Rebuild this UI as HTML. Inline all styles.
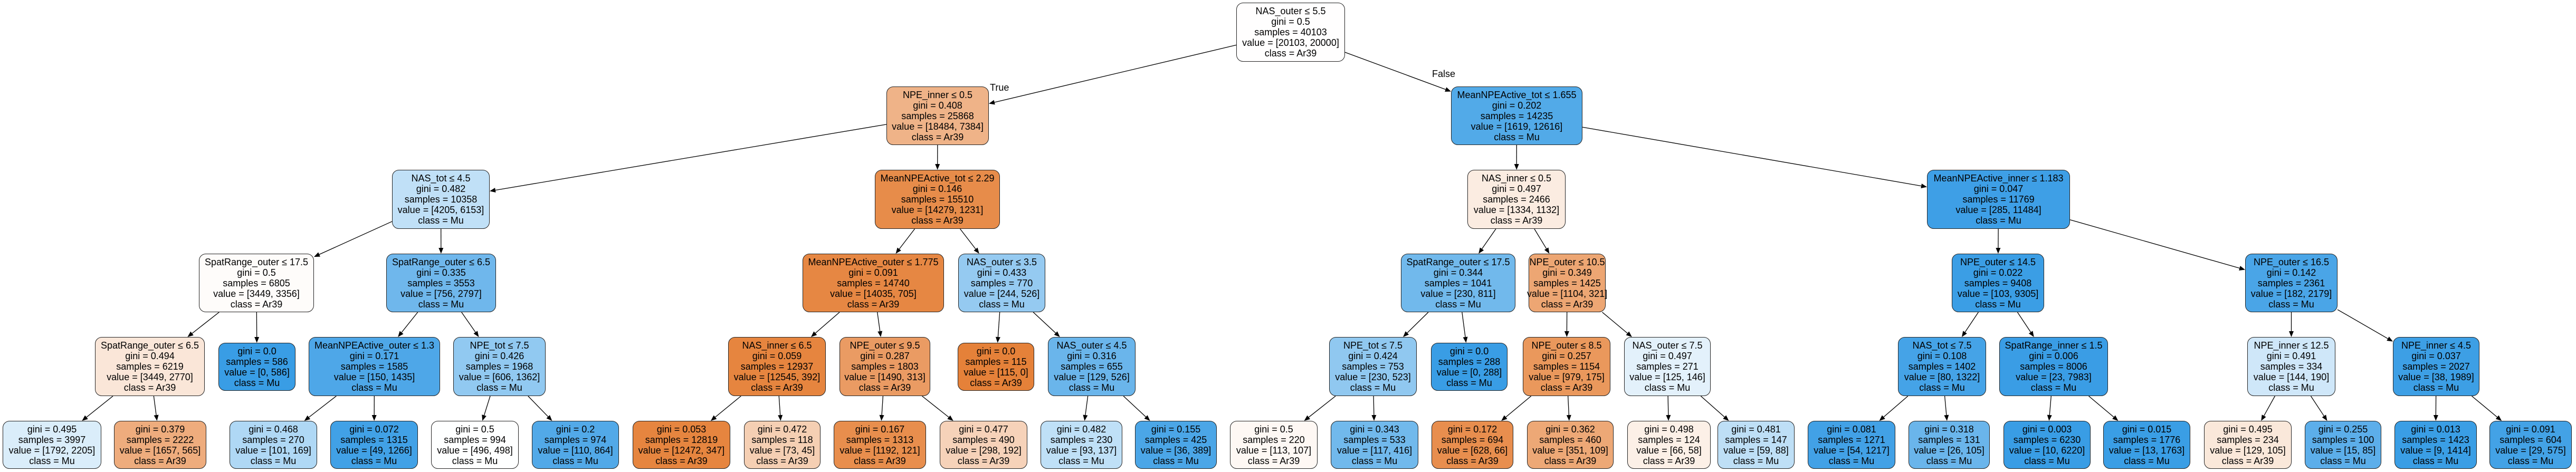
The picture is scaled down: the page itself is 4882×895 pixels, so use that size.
<!DOCTYPE html>
<html><head><meta charset="utf-8">
<style>
html,body{margin:0;padding:0;background:#fff;}
body{width:4882px;height:895px;position:relative;overflow:hidden;font-family:"Liberation Sans",Arial,sans-serif;}
.n{position:absolute;box-sizing:border-box;border:1.6px solid #222;border-radius:13px;display:flex;flex-direction:column;justify-content:center;align-items:center;text-align:center;font-size:18px;line-height:20px;color:#000;white-space:nowrap;background:#fff;}
.lbl{position:absolute;font-size:18px;}
svg{position:absolute;left:0;top:0;}
</style></head><body>
<svg id="s" width="4882" height="895"></svg>
<div class="lbl" style="left:1876px;top:156px">True</div>
<div class="lbl" style="left:2714px;top:130px">False</div>

<div class="n" id="n0" style="left:2343px;top:5px;width:206px;height:112px">NAS_outer ≤ 5.5<br>gini = 0.5<br>samples = 40103<br>value = [20103, 20000]<br>class = Ar39</div>
<div class="n" id="n1" style="left:1680px;top:164px;width:194px;height:111px">NPE_inner ≤ 0.5<br>gini = 0.408<br>samples = 25868<br>value = [18484, 7384]<br>class = Ar39</div>
<div class="n" id="n2" style="left:2750px;top:164px;width:249px;height:111px">MeanNPEActive_tot ≤ 1.655<br>gini = 0.202<br>samples = 14235<br>value = [1619, 12616]<br>class = Mu</div>
<div class="n" id="n3" style="left:743px;top:322px;width:185px;height:112px">NAS_tot ≤ 4.5<br>gini = 0.482<br>samples = 10358<br>value = [4205, 6153]<br>class = Mu</div>
<div class="n" id="n4" style="left:1658px;top:322px;width:237px;height:112px">MeanNPEActive_tot ≤ 2.29<br>gini = 0.146<br>samples = 15510<br>value = [14279, 1231]<br>class = Ar39</div>
<div class="n" id="n5" style="left:2781px;top:322px;width:186px;height:112px">NAS_inner ≤ 0.5<br>gini = 0.497<br>samples = 2466<br>value = [1334, 1132]<br>class = Ar39</div>
<div class="n" id="n6" style="left:3652px;top:322px;width:271px;height:112px">MeanNPEActive_inner ≤ 1.183<br>gini = 0.047<br>samples = 11769<br>value = [285, 11484]<br>class = Mu</div>

<div class="n" id="n7" style="left:377px;top:481px;width:218px;height:111px">SpatRange_outer ≤ 17.5<br>gini = 0.5<br>samples = 6805<br>value = [3449, 3356]<br>class = Ar39</div>
<div class="n" id="n8" style="left:732px;top:481px;width:208px;height:111px">SpatRange_outer ≤ 6.5<br>gini = 0.335<br>samples = 3553<br>value = [756, 2797]<br>class = Mu</div>
<div class="n" id="n9" style="left:1521px;top:481px;width:268px;height:111px">MeanNPEActive_outer ≤ 1.775<br>gini = 0.091<br>samples = 14740<br>value = [14035, 705]<br>class = Ar39</div>
<div class="n" id="n10" style="left:1816px;top:481px;width:165px;height:111px">NAS_outer ≤ 3.5<br>gini = 0.433<br>samples = 770<br>value = [244, 526]<br>class = Mu</div>
<div class="n" id="n11" style="left:2655px;top:481px;width:217px;height:111px">SpatRange_outer ≤ 17.5<br>gini = 0.344<br>samples = 1041<br>value = [230, 811]<br>class = Mu</div>
<div class="n" id="n12" style="left:2897px;top:481px;width:146px;height:111px">NPE_outer ≤ 10.5<br>gini = 0.349<br>samples = 1425<br>value = [1104, 321]<br>class = Ar39</div>
<div class="n" id="n13" style="left:3699px;top:481px;width:175px;height:111px">NPE_outer ≤ 14.5<br>gini = 0.022<br>samples = 9408<br>value = [103, 9305]<br>class = Mu</div>
<div class="n" id="n14" style="left:4255px;top:481px;width:175px;height:111px">NPE_outer ≤ 16.5<br>gini = 0.142<br>samples = 2361<br>value = [182, 2179]<br>class = Mu</div>

<div class="n" id="n15" style="left:180px;top:639px;width:208px;height:112px">SpatRange_outer ≤ 6.5<br>gini = 0.494<br>samples = 6219<br>value = [3449, 2770]<br>class = Ar39</div>
<div class="n" id="n16" style="left:414px;top:650px;width:146px;height:91px">gini = 0.0<br>samples = 586<br>value = [0, 586]<br>class = Mu</div>
<div class="n" id="n17" style="left:585px;top:639px;width:249px;height:112px">MeanNPEActive_outer ≤ 1.3<br>gini = 0.171<br>samples = 1585<br>value = [150, 1435]<br>class = Mu</div>
<div class="n" id="n18" style="left:859px;top:639px;width:175px;height:112px">NPE_tot ≤ 7.5<br>gini = 0.426<br>samples = 1968<br>value = [606, 1362]<br>class = Mu</div>
<div class="n" id="n19" style="left:1380px;top:639px;width:185px;height:112px">NAS_inner ≤ 6.5<br>gini = 0.059<br>samples = 12937<br>value = [12545, 392]<br>class = Ar39</div>
<div class="n" id="n20" style="left:1591px;top:639px;width:172px;height:112px">NPE_outer ≤ 9.5<br>gini = 0.287<br>samples = 1803<br>value = [1490, 313]<br>class = Ar39</div>
<div class="n" id="n21" style="left:1815px;top:650px;width:145px;height:91px">gini = 0.0<br>samples = 115<br>value = [115, 0]<br>class = Ar39</div>
<div class="n" id="n22" style="left:1986px;top:639px;width:166px;height:112px">NAS_outer ≤ 4.5<br>gini = 0.316<br>samples = 655<br>value = [129, 526]<br>class = Mu</div>
<div class="n" id="n23" style="left:2519px;top:639px;width:166px;height:112px">NPE_tot ≤ 7.5<br>gini = 0.424<br>samples = 753<br>value = [230, 523]<br>class = Mu</div>
<div class="n" id="n24" style="left:2712px;top:650px;width:145px;height:91px">gini = 0.0<br>samples = 288<br>value = [0, 288]<br>class = Mu</div>
<div class="n" id="n25" style="left:2886px;top:639px;width:166px;height:112px">NPE_outer ≤ 8.5<br>gini = 0.257<br>samples = 1154<br>value = [979, 175]<br>class = Ar39</div>
<div class="n" id="n26" style="left:3078px;top:639px;width:164px;height:112px">NAS_outer ≤ 7.5<br>gini = 0.497<br>samples = 271<br>value = [125, 146]<br>class = Mu</div>
<div class="n" id="n27" style="left:3597px;top:639px;width:167px;height:112px">NAS_tot ≤ 7.5<br>gini = 0.108<br>samples = 1402<br>value = [80, 1322]<br>class = Mu</div>
<div class="n" id="n28" style="left:3789px;top:639px;width:206px;height:112px">SpatRange_inner ≤ 1.5<br>gini = 0.006<br>samples = 8006<br>value = [23, 7983]<br>class = Mu</div>
<div class="n" id="n29" style="left:4259px;top:639px;width:167px;height:112px">NPE_inner ≤ 12.5<br>gini = 0.491<br>samples = 334<br>value = [144, 190]<br>class = Mu</div>
<div class="n" id="n30" style="left:4535px;top:639px;width:164px;height:112px">NPE_inner ≤ 4.5<br>gini = 0.037<br>samples = 2027<br>value = [38, 1989]<br>class = Mu</div>

<div class="n" id="l0" style="left:5px;top:798px;width:187px;height:91px">gini = 0.495<br>samples = 3997<br>value = [1792, 2205]<br>class = Mu</div>
<div class="n" id="l1" style="left:216px;top:798px;width:175px;height:91px">gini = 0.379<br>samples = 2222<br>value = [1657, 565]<br>class = Ar39</div>
<div class="n" id="l2" style="left:435px;top:798px;width:166px;height:91px">gini = 0.468<br>samples = 270<br>value = [101, 169]<br>class = Mu</div>
<div class="n" id="l3" style="left:626px;top:798px;width:166px;height:91px">gini = 0.072<br>samples = 1315<br>value = [49, 1266]<br>class = Mu</div>
<div class="n" id="l4" style="left:817px;top:798px;width:166px;height:91px">gini = 0.5<br>samples = 994<br>value = [496, 498]<br>class = Mu</div>
<div class="n" id="l5" style="left:1008px;top:798px;width:165px;height:91px">gini = 0.2<br>samples = 974<br>value = [110, 864]<br>class = Mu</div>
<div class="n" id="l6" style="left:1199px;top:798px;width:185px;height:91px">gini = 0.053<br>samples = 12819<br>value = [12472, 347]<br>class = Ar39</div>
<div class="n" id="l7" style="left:1410px;top:798px;width:145px;height:91px">gini = 0.472<br>samples = 118<br>value = [73, 45]<br>class = Ar39</div>
<div class="n" id="l8" style="left:1580px;top:798px;width:175px;height:91px">gini = 0.167<br>samples = 1313<br>value = [1192, 121]<br>class = Ar39</div>
<div class="n" id="l9" style="left:1781px;top:798px;width:166px;height:91px">gini = 0.477<br>samples = 490<br>value = [298, 192]<br>class = Ar39</div>
<div class="n" id="l10" style="left:1972px;top:798px;width:155px;height:91px">gini = 0.482<br>samples = 230<br>value = [93, 137]<br>class = Mu</div>
<div class="n" id="l11" style="left:2151px;top:798px;width:155px;height:91px">gini = 0.155<br>samples = 425<br>value = [36, 389]<br>class = Mu</div>
<div class="n" id="l12" style="left:2331px;top:798px;width:166px;height:91px">gini = 0.5<br>samples = 220<br>value = [113, 107]<br>class = Ar39</div>
<div class="n" id="l13" style="left:2522px;top:798px;width:166px;height:91px">gini = 0.343<br>samples = 533<br>value = [117, 416]<br>class = Mu</div>
<div class="n" id="l14" style="left:2713px;top:798px;width:155px;height:91px">gini = 0.172<br>samples = 694<br>value = [628, 66]<br>class = Ar39</div>
<div class="n" id="l15" style="left:2894px;top:798px;width:164px;height:91px">gini = 0.362<br>samples = 460<br>value = [351, 109]<br>class = Ar39</div>
<div class="n" id="l16" style="left:3084px;top:798px;width:158px;height:91px">gini = 0.498<br>samples = 124<br>value = [66, 58]<br>class = Ar39</div>
<div class="n" id="l17" style="left:3255px;top:798px;width:146px;height:91px">gini = 0.481<br>samples = 147<br>value = [59, 88]<br>class = Mu</div>
<div class="n" id="l18" style="left:3426px;top:798px;width:166px;height:91px">gini = 0.081<br>samples = 1271<br>value = [54, 1217]<br>class = Mu</div>
<div class="n" id="l19" style="left:3617px;top:798px;width:154px;height:91px">gini = 0.318<br>samples = 131<br>value = [26, 105]<br>class = Mu</div>
<div class="n" id="l20" style="left:3797px;top:798px;width:165px;height:91px">gini = 0.003<br>samples = 6230<br>value = [10, 6220]<br>class = Mu</div>
<div class="n" id="l21" style="left:3986px;top:798px;width:165px;height:91px">gini = 0.015<br>samples = 1776<br>value = [13, 1763]<br>class = Mu</div>
<div class="n" id="l22" style="left:4177px;top:798px;width:166px;height:91px">gini = 0.495<br>samples = 234<br>value = [129, 105]<br>class = Ar39</div>
<div class="n" id="l23" style="left:4368px;top:798px;width:145px;height:91px">gini = 0.255<br>samples = 100<br>value = [15, 85]<br>class = Mu</div>
<div class="n" id="l24" style="left:4538px;top:798px;width:156px;height:91px">gini = 0.013<br>samples = 1423<br>value = [9, 1414]<br>class = Mu</div>
<div class="n" id="l25" style="left:4718px;top:798px;width:156px;height:91px">gini = 0.091<br>samples = 604<br>value = [29, 575]<br>class = Mu</div>

<script>
(function(){
  var nodes=document.querySelectorAll('.n');
  nodes.forEach(function(d){
    var m=d.textContent.match(/value = \[(\d+), (\d+)\]/);
    if(!m)return;
    var a=+m[1],b=+m[2],t=a+b,pa=a/t,pb=b/t;
    var c,al;
    if(pa>=pb){c=[229,129,57];al=(pa-pb)/(1-pb);}else{c=[57,157,229];al=(pb-pa)/(1-pa);}
    var col=c.map(function(v){return Math.round(al*v+(1-al)*255);});
    d.style.background='rgb('+col.join(',')+')';
  });
  var E=[['n0','n1'],['n0','n2'],['n1','n3'],['n1','n4'],['n2','n5'],['n2','n6'],
  ['n3','n7'],['n3','n8'],['n4','n9'],['n4','n10'],['n5','n11'],['n5','n12'],['n6','n13'],['n6','n14'],
  ['n7','n15'],['n7','n16'],['n8','n17'],['n8','n18'],['n9','n19'],['n9','n20'],['n10','n21'],['n10','n22'],
  ['n11','n23'],['n11','n24'],['n12','n25'],['n12','n26'],['n13','n27'],['n13','n28'],['n14','n29'],['n14','n30'],
  ['n15','l0'],['n15','l1'],['n17','l2'],['n17','l3'],['n18','l4'],['n18','l5'],['n19','l6'],['n19','l7'],
  ['n20','l8'],['n20','l9'],['n22','l10'],['n22','l11'],['n23','l12'],['n23','l13'],['n25','l14'],['n25','l15'],
  ['n26','l16'],['n26','l17'],['n27','l18'],['n27','l19'],['n28','l20'],['n28','l21'],['n29','l22'],['n29','l23'],
  ['n30','l24'],['n30','l25']];
  function R(id){var e=document.getElementById(id);return {x:e.offsetLeft,y:e.offsetTop,w:e.offsetWidth,h:e.offsetHeight};}
  function clip(r,dx,dy){
    var tx=dx?(r.w/2)/Math.abs(dx):1e9, ty=dy?(r.h/2)/Math.abs(dy):1e9;return Math.min(tx,ty);}
  var s='';
  E.forEach(function(p){
    var a=R(p[0]),b=R(p[1]);
    var ax=a.x+a.w/2,ay=a.y+a.h/2,bx=b.x+b.w/2,by=b.y+b.h/2;
    var dx=bx-ax,dy=by-ay;
    var t1=clip(a,dx,dy),t2=clip(b,-dx,-dy);
    var x1=ax+dx*t1,y1=ay+dy*t1,x2=bx-dx*t2,y2=by-dy*t2;
    var L=Math.sqrt((x2-x1)*(x2-x1)+(y2-y1)*(y2-y1)),ux=(x2-x1)/L,uy=(y2-y1)/L;
    var hl=11,hw=4.5;
    var bx2=x2-ux*hl,by2=y2-uy*hl;
    s+='<line x1="'+x1+'" y1="'+y1+'" x2="'+bx2+'" y2="'+by2+'" stroke="#000" stroke-width="1.3"/>';
    s+='<polygon points="'+x2+','+y2+' '+(bx2-uy*hw)+','+(by2+ux*hw)+' '+(bx2+uy*hw)+','+(by2-ux*hw)+'" fill="#000"/>';
  });
  document.getElementById('s').innerHTML=s;
})();
</script>
</body></html>
